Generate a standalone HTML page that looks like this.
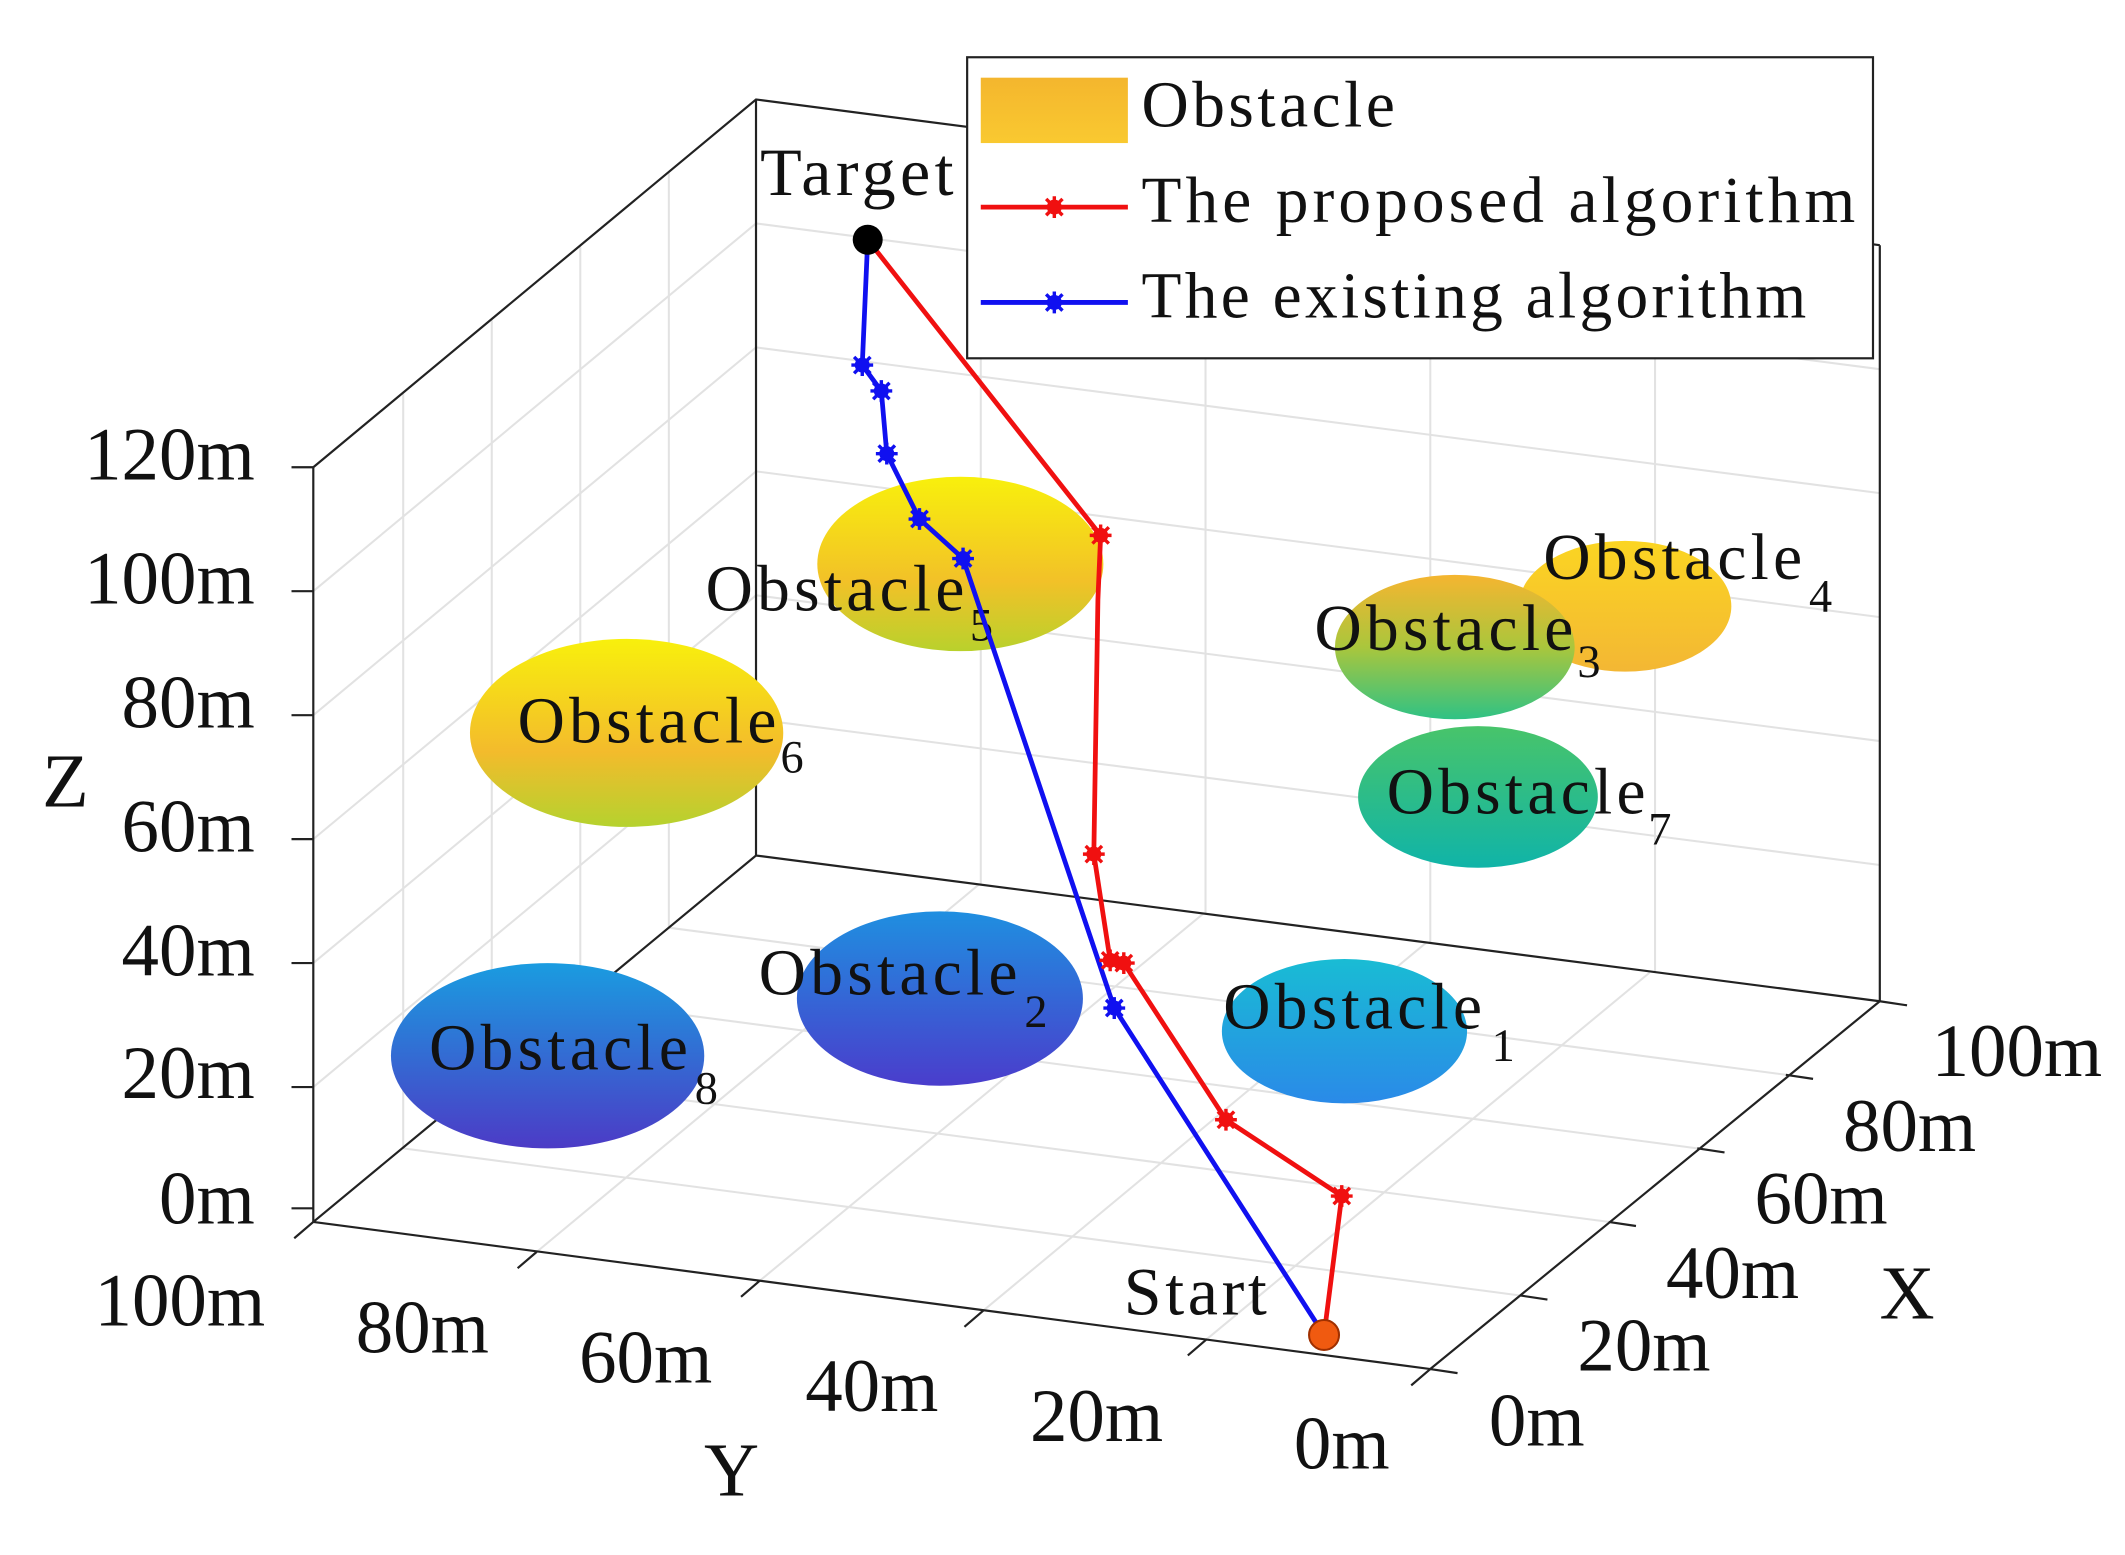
<!DOCTYPE html>
<html><head><meta charset="utf-8"><style>html,body{margin:0;padding:0;background:#fff}svg{display:block}</style></head>
<body>
<svg width="2125" height="1555" viewBox="0 0 1560 1141.5" xmlns="http://www.w3.org/2000/svg" font-family="'Liberation Serif', serif" fill="#111">
<defs>
<linearGradient id="gO" x1="0" y1="0" x2="0" y2="1"><stop offset="0" stop-color="#f4b62e"/><stop offset="1" stop-color="#f9c930"/></linearGradient>
<linearGradient id="g5" x1="0" y1="0" x2="0" y2="1"><stop offset="0" stop-color="#f8f00c"/><stop offset="0.6" stop-color="#f2c128"/><stop offset="1" stop-color="#b9d12c"/></linearGradient>
<linearGradient id="g6" x1="0" y1="0" x2="0" y2="1"><stop offset="0" stop-color="#f8f00c"/><stop offset="0.6" stop-color="#f3bb2c"/><stop offset="1" stop-color="#b5d22e"/></linearGradient>
<linearGradient id="g3" x1="0" y1="0" x2="0" y2="1"><stop offset="0" stop-color="#f5b530"/><stop offset="0.5" stop-color="#aac63c"/><stop offset="1" stop-color="#2fc285"/></linearGradient>
<linearGradient id="g4" x1="0" y1="0" x2="0" y2="1"><stop offset="0" stop-color="#fbd522"/><stop offset="1" stop-color="#f3b734"/></linearGradient>
<linearGradient id="g7" x1="0" y1="0" x2="0" y2="1"><stop offset="0" stop-color="#48c46a"/><stop offset="1" stop-color="#10b4a8"/></linearGradient>
<linearGradient id="g2" x1="0" y1="0" x2="0" y2="1"><stop offset="0" stop-color="#1f8fe0"/><stop offset="1" stop-color="#4a3dcc"/></linearGradient>
<linearGradient id="g8" x1="0" y1="0" x2="0" y2="1"><stop offset="0" stop-color="#1a9ce0"/><stop offset="1" stop-color="#4c3bc6"/></linearGradient>
<linearGradient id="g1" x1="0" y1="0" x2="0" y2="1"><stop offset="0" stop-color="#19bcd4"/><stop offset="1" stop-color="#2a8ae8"/></linearGradient>
<g id="mk"><circle r="5"/><path d="M-8,0 L8,0 M0,-8 L0,8 M-6,-6 L6,6 M-6,6 L6,-6" stroke-width="2.5"/></g>
</defs>
<g stroke="#e2e2e2" stroke-width="1.5" fill="none">
<path d="M230,434 L555,164 M230,525 L555,255 M230,616 L555,346 M230,707 L555,437 M230,798 L555,528"/>
<path d="M555,164 L1380,271 M555,255 L1380,362 M555,346 L1380,453 M555,437 L1380,544 M555,528 L1380,635"/>
<path d="M296,843 L296,289 M361,789 L361,235 M426,735 L426,181 M491,681 L491,127"/>
<path d="M720,649 L720,94 M885,671 L885,116 M1050,692 L1050,137 M1215,714 L1215,159"/>
<path d="M394,919 L719,649 M558,940 L883,671 M722,962 L1047,692 M886,983 L1211,714 M296,843 L1116,951 M361,789 L1181,897 M426,735 L1246,843 M491,681 L1311,789"/>
</g>
<g stroke="#222" stroke-width="1.6" fill="none">
<path d="M230,897 L555,628 L1380,735 M230,343 L555,73 L1380,180 M555,73 L555,628 M230,343 L230,897 M1380,180 L1380,735 M230,897 L1050,1005 L1380,735"/>
<path d="M214,343 L230,343 M214,434 L230,434 M214,525 L230,525 M214,616 L230,616 M214,707 L230,707 M214,798 L230,798 M214,887 L230,887"/>
<path d="M230,897 L216,909 M394,919 L380,931 M558,940 L544,952 M722,962 L708,974 M886,983 L872,995 M1050,1005 L1036,1017"/>
<path d="M1050,1005 L1070,1008 M1116,951 L1136,954 M1181,897 L1201,900 M1246,843 L1266,846 M1311,789 L1331,792 M1380,735 L1400,738"/>
</g>
<g font-size="55">
<text x="187" y="352" text-anchor="end">120m</text>
<text x="187" y="443" text-anchor="end">100m</text>
<text x="187" y="534" text-anchor="end">80m</text>
<text x="187" y="625" text-anchor="end">60m</text>
<text x="187" y="716" text-anchor="end">40m</text>
<text x="187" y="806" text-anchor="end">20m</text>
<text x="187" y="898" text-anchor="end">0m</text>
<text x="132" y="973" text-anchor="middle">100m</text>
<text x="310" y="993" text-anchor="middle">80m</text>
<text x="474" y="1015" text-anchor="middle">60m</text>
<text x="640" y="1036" text-anchor="middle">40m</text>
<text x="805" y="1058" text-anchor="middle">20m</text>
<text x="985" y="1078" text-anchor="middle">0m</text>
<text x="1093" y="1061">0m</text>
<text x="1158" y="1006">20m</text>
<text x="1223" y="953">40m</text>
<text x="1288" y="898">60m</text>
<text x="1353" y="845">80m</text>
<text x="1418" y="790">100m</text>
<text x="48" y="592" text-anchor="middle" font-size="56">Z</text>
<text x="537" y="1098" text-anchor="middle" font-size="56">Y</text>
<text x="1400" y="968" text-anchor="middle" font-size="56">X</text>
</g>
<ellipse cx="705" cy="414" rx="105" ry="64" fill="url(#g5)"/>
<ellipse cx="460" cy="538" rx="115" ry="69" fill="url(#g6)"/>
<ellipse cx="1193" cy="445" rx="78" ry="48" fill="url(#g4)"/>
<ellipse cx="1068" cy="475" rx="88" ry="53" fill="url(#g3)"/>
<ellipse cx="1085" cy="585" rx="88" ry="52" fill="url(#g7)"/>
<ellipse cx="690" cy="733" rx="105" ry="64" fill="url(#g2)"/>
<ellipse cx="402" cy="775" rx="115" ry="68" fill="url(#g8)"/>
<ellipse cx="987" cy="757" rx="90" ry="53" fill="url(#g1)"/>
<g font-size="48">
<text x="518" y="448" textLength="190">Obstacle</text><text x="712" y="470" font-size="34">5</text>
<text x="380" y="545" textLength="190">Obstacle</text><text x="573" y="567" font-size="34">6</text>
<text x="965" y="477" textLength="190">Obstacle</text><text x="1158" y="497" font-size="34">3</text>
<text x="1133" y="425" textLength="190">Obstacle</text><text x="1328" y="449" font-size="34">4</text>
<text x="1018" y="597" textLength="190">Obstacle</text><text x="1210" y="620" font-size="34">7</text>
<text x="557" y="730" textLength="190">Obstacle</text><text x="752" y="754" font-size="34">2</text>
<text x="315" y="785" textLength="190">Obstacle</text><text x="510" y="810" font-size="34">8</text>
<text x="898" y="755" textLength="190">Obstacle</text><text x="1095" y="779" font-size="34">1</text>
<text x="558" y="143" font-size="50" textLength="142">Target</text>
<text x="825" y="965" font-size="50" textLength="105">Start</text>
</g>
<polyline points="637,176 808,393 806,440 803,627 815,705 825,707 900,822 985,878 972,980" fill="none" stroke="#f01010" stroke-width="3.5"/>
<polyline points="637,176 633,268 647,287 651,333 675,381 707,410 818,740 972,980" fill="none" stroke="#1010f0" stroke-width="3.5"/>
<g fill="#f01010" stroke="#f01010">
<use href="#mk" x="808" y="393"/><use href="#mk" x="803" y="627"/><use href="#mk" x="815" y="705"/><use href="#mk" x="825" y="707"/><use href="#mk" x="900" y="822"/><use href="#mk" x="985" y="878"/>
</g>
<g fill="#1010f0" stroke="#1010f0">
<use href="#mk" x="633" y="268"/><use href="#mk" x="647" y="287"/><use href="#mk" x="651" y="333"/><use href="#mk" x="675" y="381"/><use href="#mk" x="707" y="410"/><use href="#mk" x="818" y="740"/>
</g>
<circle cx="637" cy="176" r="11" fill="#000"/>
<circle cx="972" cy="980" r="11" fill="#f05a10" stroke="#a03000" stroke-width="1.5"/>
<rect x="710" y="42" width="665" height="221" fill="#fff" stroke="#222" stroke-width="1.6"/>
<rect x="720" y="57" width="108" height="48" fill="url(#gO)"/>
<line x1="720" y1="152" x2="828" y2="152" stroke="#f01010" stroke-width="3.5"/>
<use href="#mk" x="774" y="152" fill="#f01010" stroke="#f01010"/>
<line x1="720" y1="222" x2="828" y2="222" stroke="#1010f0" stroke-width="3.5"/>
<use href="#mk" x="774" y="222" fill="#1010f0" stroke="#1010f0"/>
<g font-size="48">
<text x="838" y="93" textLength="186">Obstacle</text>
<text x="838" y="163" textLength="524">The proposed algorithm</text>
<text x="838" y="233" textLength="488">The existing algorithm</text>
</g>
</svg>
</body></html>
